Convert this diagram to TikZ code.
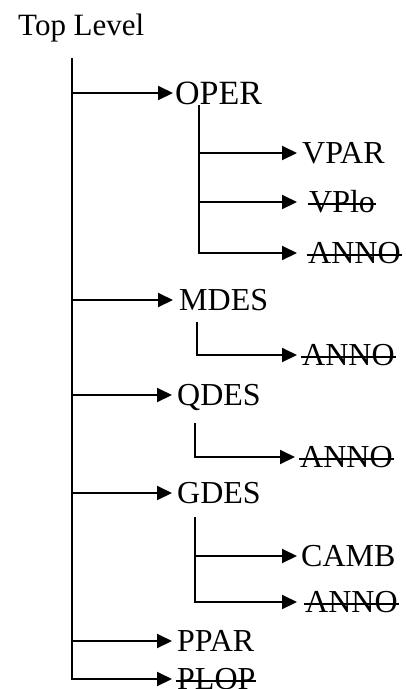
\documentclass[tikz,border=0pt]{standalone}
\usepackage{fontspec}
\setmainfont{Liberation Serif}
\newcommand\strk[1]{\setbox0\hbox{#1}\rlap{\kern-1pt\rule[0.25em]{\dimexpr\wd0+2pt\relax}{1.8pt}}\box0}
\usetikzlibrary{arrows.meta}
\begin{document}
\begin{tikzpicture}[x=1pt,y=-1pt,
  conn/.style={line width=2pt, line join=miter},
  arr/.style={conn, -{Triangle[length=15pt,width=14pt]}},
  lab/.style={anchor=west, inner sep=0pt, font=\fontsize{32}{32}\selectfont, text height=21pt, text depth=0pt},
  biglab/.style={lab, font=\fontsize{34}{34}\selectfont, text height=22.5pt}]
\useasboundingbox (0,0) rectangle (406,689);

% title
\node[anchor=base west, inner sep=0pt, font=\fontsize{31}{31}\selectfont] (top) at (18,35) {Top Level};

% first level labels
\node[biglab] (oper) at (175,93) {OPER};
\node[lab] (mdes) at (179,300) {MDES};
\node[lab] (qdes) at (177,395) {QDES};
\node[lab] (gdes) at (177,493) {GDES};
\node[lab] (ppar) at (177,641) {PPAR};
\node[lab] (plop) at (177,679) {\strk{PLOP}};

% second level labels
\node[lab] (vpar) at (302,153) {VPAR};
\node[lab] (vplo) at (309,202) {\strk{VPlo}};
\node[lab] (annoA) at (308,253) {\strk{ANNO}};
\node[lab] (annoB) at (302,355) {\strk{ANNO}};
\node[lab] (annoC) at (300,457) {\strk{ANNO}};
\node[lab] (camb) at (301,556) {CAMB};
\node[lab] (annoD) at (305,602) {\strk{ANNO}};

% main trunk
\coordinate (t0) at (72,58);
\coordinate (tO) at (72,93);
\coordinate (tM) at (72,300);
\coordinate (tQ) at (72,395);
\coordinate (tG) at (72,493);
\coordinate (tP) at (72,641);
\draw[arr, shorten >=5pt] (t0) |- (plop.west);
\draw[arr, shorten >=2pt] (tO) -- (tO -| oper.west);
\draw[arr, shorten >=6pt] (tM) -- (tM -| mdes.west);
\draw[arr, shorten >=5pt] (tQ) -- (tQ -| qdes.west);
\draw[arr, shorten >=5pt] (tG) -- (tG -| gdes.west);
\draw[arr, shorten >=5pt] (tP) -- (tP -| ppar.west);

% OPER sub-tree
\coordinate (s1) at (199,105);
\coordinate (s1a) at (199,153);
\coordinate (s1b) at (199,202);
\draw[arr, shorten >=11pt] (s1) |- (annoA.west);
\draw[arr, shorten >=5pt] (s1a) -- (s1a -| vpar.west);
\draw[arr, shorten >=12pt] (s1b) -- (s1b -| vplo.west);

% MDES sub-tree
\coordinate (s2) at (197,322);
\draw[arr, shorten >=5pt] (s2) |- (annoB.west);

% QDES sub-tree
\coordinate (s3) at (195,423);
\draw[arr, shorten >=5pt] (s3) |- (annoC.west);

% GDES sub-tree
\coordinate (s4) at (195,517);
\coordinate (s4a) at (195,556);
\draw[arr, shorten >=8pt] (s4) |- (annoD.west);
\draw[arr, shorten >=4pt] (s4a) -- (s4a -| camb.west);
\end{tikzpicture}
\end{document}
